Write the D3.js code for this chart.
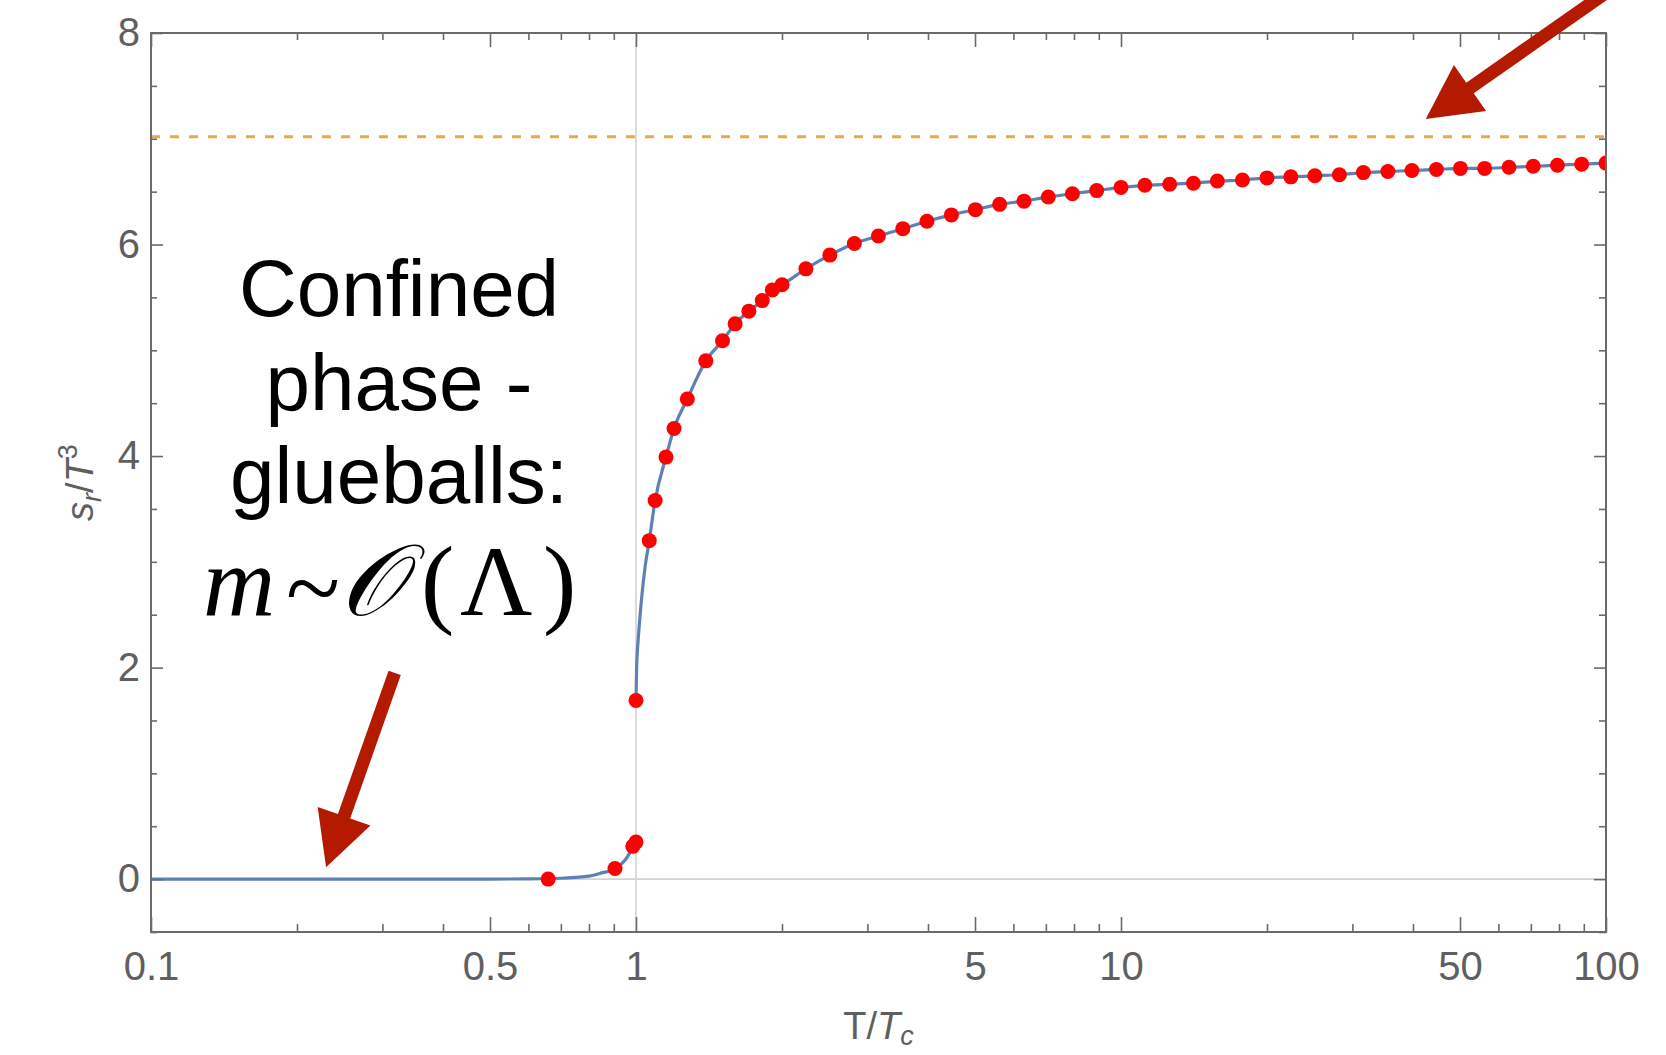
<!DOCTYPE html>
<html lang="en">
<head>
<meta charset="UTF-8" />
<title>Entropy density s/T^3</title>
<style>
  body { margin: 0; background: #fff; }
  .tick text { font-family: "Liberation Sans", Arial, sans-serif; font-size: 40px; fill: #5f5f5f; }
  .tick line { stroke: #6a6a6a; stroke-width: 1.6px; }
  .frame { fill: none; stroke: #6a6a6a; stroke-width: 2px; }
  .grid { stroke: #d2d2d2; stroke-width: 1.6px; }
  .axis-label { font-family: "Liberation Sans", Arial, sans-serif; font-size: 38px; fill: #5f5f5f; }
  .note { font-family: "Liberation Sans", Arial, sans-serif; font-size: 80px; fill: #000; }
  .math { font-family: "Liberation Serif", "DejaVu Serif", serif; font-size: 100px; fill: #000; }
</style>
</head>
<body>
<script src="https://cdn.jsdelivr.net/npm/d3@7"></script>
<script>
  // lattice points, confined side
  const lowT = [0.659, 0.905, 0.985, 1.0];
  const lowS = [0.0, 0.10, 0.31, 0.35];

  // lattice points, deconfined side
  const highT = [1.0, 1.065, 1.095, 1.153, 1.198, 1.276, 1.393, 1.508, 1.601, 1.709, 1.821, 1.910,
    2.00, 2.24, 2.51, 2.82, 3.16, 3.55, 3.98, 4.47, 5.01, 5.62, 6.31, 7.08, 7.94, 8.91,
    10.0, 11.2, 12.6, 14.1, 15.8, 17.8, 20.0, 22.4, 25.1, 28.2, 31.6, 35.5, 39.8, 44.7,
    50.1, 56.2, 63.1, 70.8, 79.4, 89.1, 100];
  const highS = [1.69, 3.20, 3.58, 3.99, 4.26, 4.54, 4.90, 5.09, 5.25, 5.37, 5.47, 5.57,
    5.62, 5.77, 5.90, 6.01, 6.08, 6.15, 6.22, 6.28, 6.33, 6.38, 6.41, 6.45, 6.48, 6.51,
    6.54, 6.56, 6.57, 6.58, 6.60, 6.61, 6.63, 6.64, 6.65, 6.66, 6.68, 6.69, 6.70, 6.71,
    6.72, 6.72, 6.73, 6.74, 6.75, 6.76, 6.77];

  // fitted curve, below Tc
  const fitLowT = [0.1, 0.3, 0.5, 0.6, 0.7, 0.75, 0.8, 0.843, 0.905, 0.95, 0.985, 1.0];
  const fitLowS = [0, 0, 0, 0.002, 0.008, 0.016, 0.028, 0.054, 0.10, 0.18, 0.30, 0.35];
  // fitted curve, just above Tc (then follows the points)
  const fitJumpT = [1.0, 1.003, 1.01, 1.019, 1.044];
  const fitJumpS = [1.69, 2.0, 2.25, 2.48, 2.95];

  const sbLimit = 7.02;

  const xMajor = [0.1, 0.5, 1, 5, 10, 50, 100];
  const xLabels = ["0.1", "0.5", "1", "5", "10", "50", "100"];
  const xMinor = [0.2, 0.3, 0.4, 0.6, 0.7, 0.8, 0.9, 2, 3, 4, 6, 7, 8, 9, 20, 30, 40, 60, 70, 80, 90];
  const yMajor = [0, 2, 4, 6, 8];
  const yMinor = [-0.5, 0.5, 1, 1.5, 2.5, 3, 3.5, 4.5, 5, 5.5, 6.5, 7, 7.5];

  // arrows, in data coordinates [T, s]
  const arrowLow = { from: [0.318, 1.95], to: [0.2296, 0.113] };
  const arrowHigh = { from: [117, 8.6], to: [42.5, 7.187] };

  const width = 1666, height = 1055;
  const margin = { top: 33, right: 60, bottom: 123, left: 151 };

  const x = d3.scaleLog().domain([0.1, 100]).range([margin.left, width - margin.right]);
  const y = d3.scaleLinear().domain([-0.5, 8]).range([height - margin.bottom, margin.top]);

  const svg = d3.select("body").append("svg")
    .attr("width", width)
    .attr("height", height);

  svg.append("clipPath").attr("id", "plot-clip")
    .append("rect")
    .attr("x", x.range()[0]).attr("y", y.range()[1])
    .attr("width", x.range()[1] - x.range()[0])
    .attr("height", y.range()[0] - y.range()[1]);

  // grid lines at T = Tc and s = 0
  svg.append("line").attr("class", "grid")
    .attr("x1", x(1)).attr("x2", x(1))
    .attr("y1", y.range()[0]).attr("y2", y.range()[1]);
  svg.append("line").attr("class", "grid")
    .attr("x1", x.range()[0]).attr("x2", x.range()[1])
    .attr("y1", y(0)).attr("y2", y(0));

  const plot = svg.append("g").attr("clip-path", "url(#plot-clip)");

  // Stefan-Boltzmann limit
  plot.append("line")
    .attr("x1", x.range()[0]).attr("x2", x.range()[1])
    .attr("y1", y(sbLimit)).attr("y2", y(sbLimit))
    .attr("stroke", "#e19c24")
    .attr("stroke-opacity", 0.85)
    .attr("stroke-width", 3)
    .attr("stroke-dasharray", "9,10");

  const line = d3.line()
    .x(d => x(d[0]))
    .y(d => y(d[1]))
    .curve(d3.curveMonotoneX);

  const lowFit = fitLowT.map((t, i) => [t, fitLowS[i]]);
  const highFit = fitJumpT.map((t, i) => [t, fitJumpS[i]])
    .concat(highT.slice(1).map((t, i) => [t, highS[i + 1]]));

  plot.selectAll(".fit")
    .data([lowFit, highFit])
    .join("path")
    .attr("class", "fit")
    .attr("d", line)
    .attr("fill", "none")
    .attr("stroke", "#5e81b5")
    .attr("stroke-width", 3.2);

  const points = lowT.map((t, i) => [t, lowS[i]])
    .concat(highT.map((t, i) => [t, highS[i]]));

  plot.selectAll(".pt")
    .data(points)
    .join("circle")
    .attr("class", "pt")
    .attr("cx", d => x(d[0]))
    .attr("cy", d => y(d[1]))
    .attr("r", 7.5)
    .attr("fill", "#ff0000");

  // axes, ticks pointing inward
  function styleAxis(g) {
    g.select(".domain").remove();
    g.attr("font-family", null).attr("font-size", null);
  }

  svg.append("g")
    .attr("transform", `translate(0,${y.range()[0]})`)
    .call(d3.axisBottom(x).tickValues(xMajor).tickSizeInner(-15).tickSizeOuter(0).tickPadding(20)
      .tickFormat((d, i) => xLabels[i]))
    .call(styleAxis);
  svg.append("g")
    .attr("transform", `translate(0,${y.range()[0]})`)
    .call(d3.axisBottom(x).tickValues(xMinor).tickSizeInner(-8).tickSizeOuter(0).tickFormat(""))
    .call(styleAxis);
  svg.append("g")
    .attr("transform", `translate(0,${y.range()[1]})`)
    .call(d3.axisTop(x).tickValues(xMajor).tickSizeInner(-14).tickSizeOuter(0).tickFormat(""))
    .call(styleAxis);
  svg.append("g")
    .attr("transform", `translate(0,${y.range()[1]})`)
    .call(d3.axisTop(x).tickValues(xMinor).tickSizeInner(-7).tickSizeOuter(0).tickFormat(""))
    .call(styleAxis);

  svg.append("g")
    .attr("transform", `translate(${x.range()[0]},0)`)
    .call(d3.axisLeft(y).tickValues(yMajor).tickSizeInner(-12).tickSizeOuter(0).tickPadding(11)
      .tickFormat(d3.format("d")))
    .call(styleAxis);
  svg.append("g")
    .attr("transform", `translate(${x.range()[0]},0)`)
    .call(d3.axisLeft(y).tickValues(yMinor).tickSizeInner(-6).tickSizeOuter(0).tickFormat(""))
    .call(styleAxis);
  svg.append("g")
    .attr("transform", `translate(${x.range()[1]},0)`)
    .call(d3.axisRight(y).tickValues(yMajor).tickSizeInner(-12).tickSizeOuter(0).tickFormat(""))
    .call(styleAxis);
  svg.append("g")
    .attr("transform", `translate(${x.range()[1]},0)`)
    .call(d3.axisRight(y).tickValues(yMinor).tickSizeInner(-7).tickSizeOuter(0).tickFormat(""))
    .call(styleAxis);

  svg.append("rect").attr("class", "frame")
    .attr("x", x.range()[0]).attr("y", y.range()[1])
    .attr("width", x.range()[1] - x.range()[0])
    .attr("height", y.range()[0] - y.range()[1]);

  // axis labels
  const xl = svg.append("text").attr("class", "axis-label")
    .attr("x", (x.range()[0] + x.range()[1]) / 2)
    .attr("y", 1039)
    .attr("text-anchor", "middle");
  xl.append("tspan").text("T/");
  xl.append("tspan").attr("font-style", "italic").text("T");
  xl.append("tspan").attr("font-style", "italic").attr("font-size", "27px").attr("dy", 6).text("c");

  const yl = svg.append("text").attr("class", "axis-label")
    .attr("transform", `translate(93,${(y.range()[0] + y.range()[1]) / 2}) rotate(-90)`)
    .attr("text-anchor", "middle");
  yl.append("tspan").attr("font-style", "italic").text("s");
  yl.append("tspan").attr("font-style", "italic").attr("font-size", "27px").attr("dy", 8).text("r");
  yl.append("tspan").attr("dy", -8).text("/");
  yl.append("tspan").attr("font-style", "italic").text("T");
  yl.append("tspan").attr("font-size", "27px").attr("dy", -16).text("3");

  // annotation
  const note = svg.append("text").attr("class", "note").attr("text-anchor", "middle");
  ["Confined", "phase -", "glueballs:"].forEach((s, i) => {
    note.append("tspan").attr("x", 399).attr("y", 316 + i * 93.5).text(s);
  });

  const mathY = 615;
  const math = svg.append("text").attr("class", "math");
  math.append("tspan").attr("x", 203).attr("y", mathY).attr("font-style", "italic").text("m");
  math.append("tspan").attr("x", 286).attr("y", mathY + 6).text("~");
  math.append("tspan").attr("x", 340).attr("y", mathY).attr("font-style", "italic").text("\u{1D4AA}");
  math.append("tspan").attr("x", 421).attr("y", mathY).text("(");
  math.append("tspan").attr("x", 460).attr("y", mathY).text("\u039B");
  math.append("tspan").attr("x", 543).attr("y", mathY).text(")");

  // arrows
  function arrowPath(a) {
    const x1 = x(a.from[0]), y1 = y(a.from[1]);
    const x2 = x(a.to[0]), y2 = y(a.to[1]);
    const len = Math.hypot(x2 - x1, y2 - y1);
    const ux = (x2 - x1) / len, uy = (y2 - y1) / len;
    const px = -uy, py = ux;
    const headLen = 54, headW = 28, shaftW = 6.5;
    const bx = x2 - ux * headLen, by = y2 - uy * headLen;
    const p = d3.path();
    p.moveTo(x1 + px * shaftW, y1 + py * shaftW);
    p.lineTo(bx + px * shaftW, by + py * shaftW);
    p.lineTo(bx + px * headW, by + py * headW);
    p.lineTo(x2, y2);
    p.lineTo(bx - px * headW, by - py * headW);
    p.lineTo(bx - px * shaftW, by - py * shaftW);
    p.lineTo(x1 - px * shaftW, y1 - py * shaftW);
    p.closePath();
    return p.toString();
  }

  svg.selectAll(".arrow")
    .data([arrowLow, arrowHigh])
    .join("path")
    .attr("class", "arrow")
    .attr("d", arrowPath)
    .attr("fill", "#b41a00");
</script>
</body>
</html>
